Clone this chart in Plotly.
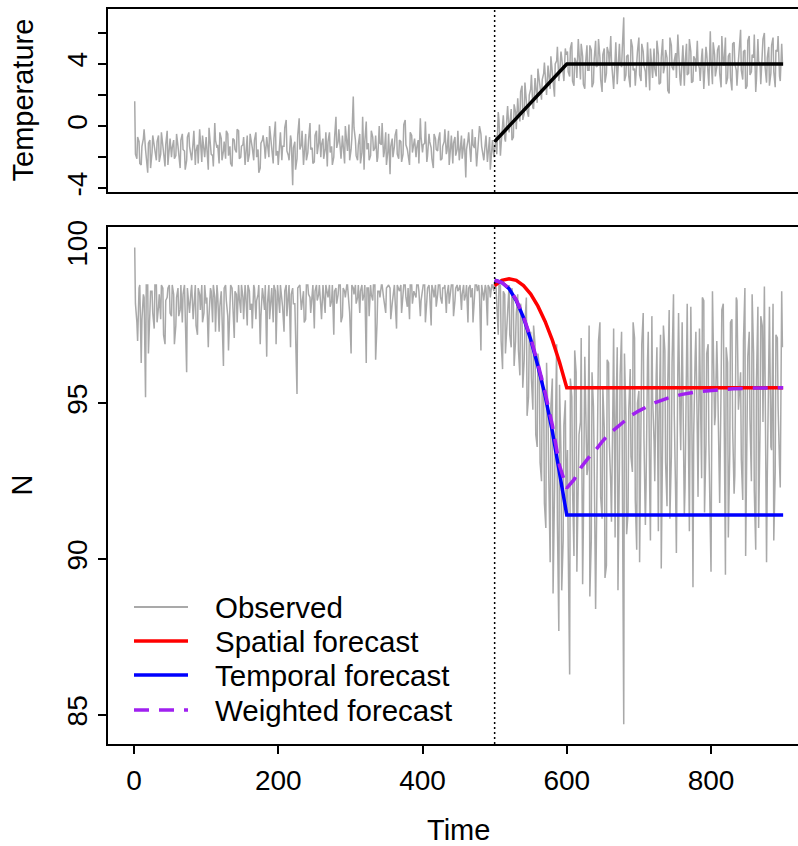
import plotly.graph_objects as go

# ---------------- data ----------------
obs_time_a = list(range(1, 900, 3))
obs_time_b = list(range(2, 900, 3))

temp_obs_a = [
    1.6, -2.1, -1.0, -2.5, -0.8, -1.5, -3.0, -0.9, -1.7, -1.2,
    -2.2, -0.6, -1.8, -1.1, -2.6, -0.3, -1.4, -2.0, -0.9, -1.9,
    -1.3, -2.7, -0.5, -1.6, -2.2, -0.4, -1.8, -1.0, -2.5, -1.2,
    -0.2, -2.3, -1.5, -0.7, -2.8, -1.1, -1.9, 0.2, -1.4, -2.4,
    -0.8, -1.6, -2.1, -0.5, -1.3, -2.6, -0.9, -1.7, -0.3, -2.0,
    -1.2, -2.5, -0.6, -1.8, -1.0, -2.2, -0.4, -1.5, -2.7, -0.9,
    -1.4, -0.7, -2.0, -1.1, -2.4, 0.3, -1.6, -0.8, -2.2, -1.3,
    0.4, -1.9, -0.6, -3.8, -1.0, -2.1, 0.5, -1.2, -2.5, -0.5,
    -1.7, 0.2, -1.4, -2.3, -0.3, -1.1, -2.0, -0.8, -1.5, -2.6,
    -0.4, -1.3, -2.0, 0.6, -1.0, -1.8, -0.6, -2.4, -1.2, 0.1,
    -1.5, 1.9, -0.9, -2.2, -0.5, -1.7, -2.8, 0.3, -1.1, -1.9,
    -0.7, -1.4, -2.3, 0.0, -1.2, -2.0, -0.4, -1.6, -3.1, -0.8,
    -1.3, -0.2, -2.1, -1.0, -1.8, 0.4, -1.5, -2.5, -0.6, -1.2,
    -2.0, -0.9, 0.5, -1.7, -1.1, -2.3, -0.5, -1.4, -2.7, -0.8,
    -1.6, -0.4, -2.1, -1.0, -1.8, -0.3, -1.3, -2.4, -0.7, -1.5,
    -2.2, -0.6, -1.2, -3.3, -0.9, -1.7, -0.2, -1.4, -2.6, -1.0,
    -0.5, -1.9, -1.1, -2.3, -0.7, -1.6, -2.0,
    -0.6, 0.9, -1.9, 0.2, -0.8, 0.6, -0.4, 1.1, -0.7, 0.9,
    1.8, 0.3, 2.6, 0.8, 1.9, 0.6, 2.4, 1.2, 3.1, 1.5,
    2.8, 1.7, 3.4, 2.1, 3.9, 2.4, 3.6, 1.9, 4.2, 2.9,
    4.8, 3.1, 5.0,
    4.8, 3.2, 5.4, 2.6, 4.1, 5.6, 3.0, 4.5, 2.4, 5.2,
    3.6, 4.9, 2.8, 5.5, 3.9, 4.4, 2.2, 5.0, 3.4, 4.7,
    5.8, 3.1, 4.3, 2.7, 5.3, 3.8, 7.0, 3.3, 4.6, 2.5,
    5.1, 3.7, 4.2, 5.7, 2.9, 4.8, 3.5, 5.4, 2.3, 4.0,
    5.0, 3.2, 4.6, 2.8, 5.6, 3.9, 4.4, 2.1, 5.2, 3.6,
    4.7, 5.9, 3.0, 4.1, 2.6, 5.3, 3.4, 4.8, 2.9, 4.3,
    5.5, 3.7, 4.5, 2.4, 5.1, 3.3, 6.1, 2.7, 4.6, 3.8,
    5.2, 2.5, 4.0, 5.7, 3.1, 4.7, 2.3, 5.4, 3.6, 4.2,
    6.2, 3.0, 4.9, 2.6, 5.8, 3.5, 4.4, 2.2, 5.6, 3.9,
    4.5, 6.0, 2.8, 5.1, 3.4, 5.7, 2.5, 4.8, 3.2, 5.3,
]

temp_obs_b = [
    -1.8, -0.7, -2.4, -1.3, -0.2, -2.0, -1.1, -2.7, -0.6, -1.5,
    -1.0, -2.3, -0.4, -1.7, -1.2, -2.5, -0.8, -1.4, -2.1, -0.5,
    -2.0, -0.9, -1.5, -2.8, -0.7, -1.3, -2.2, -0.3, -1.6, -2.4,
    -1.1, -0.6, -2.0, -1.4, -0.1, -1.8, -2.6, -0.9, -1.2, -0.4,
    -2.2, -1.0, -0.3, -1.9, -2.4, -0.8, -1.5, -0.2, -2.1, -1.3,
    -0.7, -1.6, -2.3, -0.5, -1.4, -0.9, -2.0, -3.0, -1.1, -0.6,
    -2.1, -1.2, 0.0, -1.7, -0.8, -1.9, -2.5, -0.4, -1.3, -0.1,
    -1.6, -2.2, -0.9, -1.4, -2.8, -0.6, -1.5, -0.3, -1.9, -2.2,
    -0.9, -1.5, -2.4, -0.6, -1.8, 0.1, -1.2, -2.1, -0.4, -1.0,
    -1.7, -2.5, -0.8, -1.4, -0.2, -2.1, -1.3, 0.0, -1.6, -2.2,
    -0.8, -0.1, -1.9, -1.2, -2.4, 0.6, -1.0, -1.5, -2.2, -0.3,
    -1.6, -0.6, -2.0, -1.1, 0.2, -1.7, -2.5, -0.5, -1.3, -2.0,
    -0.6, -1.8, -0.9, -2.3, 0.1, -1.2, -2.0, -0.4, -1.7, -0.8,
    -1.4, -2.4, -0.7, -1.2, 0.3, -1.9, -1.0, -2.1, -0.5, -1.5,
    -0.9, -2.2, -1.3, -0.2, -1.6, -2.5, -0.6, -1.1, -1.9, -0.3,
    -1.4, -2.1, -0.8, -1.5, -0.4, -2.3, -1.2, -0.7, -1.8, 0.0,
    -1.3, -2.2, -0.6, -1.5, -2.8, -0.9, -1.4,
    -1.8, 0.4, -1.2, 0.7, -1.0, 1.3, 0.2, -0.9, 1.4, -0.2,
    1.0, 2.2, 0.4, 2.8, 1.0, 2.0, 3.3, 1.1, 2.6, 3.7,
    2.3, 3.0, 4.1, 2.0, 3.5, 4.5, 2.7, 4.0, 5.1, 3.3,
    4.4, 2.9, 4.6,
    3.5, 5.0, 2.9, 4.4, 3.1, 4.7, 5.3, 2.7, 4.0, 3.6,
    5.2, 2.5, 4.3, 3.8, 5.6, 3.0, 4.6, 2.8, 5.1, 3.9,
    4.2, 2.4, 5.4, 3.5, 4.1, 5.0, 2.9, 4.5, 3.2, 5.6,
    3.6, 2.6, 4.8, 3.3, 5.3, 3.9, 2.5, 4.3, 5.0, 3.1,
    3.7, 5.5, 2.7, 4.4, 3.4, 4.9, 2.3, 5.7, 3.8, 4.2,
    3.1, 4.6, 2.6, 5.2, 4.0, 3.3, 5.6, 2.8, 4.5, 3.5,
    4.1, 2.9, 5.0, 3.6, 4.7, 2.6, 4.3, 5.4, 3.2, 4.9,
    3.4, 5.8, 3.9, 2.7, 4.5, 3.1, 5.3, 4.0, 2.6, 5.0,
    3.6, 4.8, 2.4, 5.5, 3.3, 4.6, 5.9, 3.0, 4.2, 2.7,
    5.6, 3.8, 4.4, 2.6, 5.2, 3.5, 4.9, 5.8, 2.9, 4.1,
]

n_obs_a = [
    100.0, 97.6, 98.7, 96.3, 98.5, 95.2, 98.8, 97.9, 98.6, 97.4,
    98.8, 98.1, 97.7, 98.7, 96.9, 98.4, 98.8, 97.8, 98.5, 97.5,
    98.7, 98.0, 97.6, 98.8, 96.0, 98.3, 98.6, 97.7, 98.8, 97.2,
    98.5, 98.8, 97.9, 98.2, 96.8, 98.7, 97.6, 98.4, 98.8, 97.3,
    98.6, 96.2, 98.8, 97.8, 98.3, 98.7, 97.1, 98.5, 98.8, 97.9,
    98.4, 98.8, 97.5, 98.6, 98.2, 98.8, 97.7, 98.5, 96.9, 98.7,
    98.0, 96.5, 98.8, 98.3, 97.6, 98.6, 98.8, 97.9, 98.4, 97.3,
    98.8, 98.5, 96.8, 98.7, 98.2, 95.3, 98.8, 98.0, 98.6, 97.7,
    98.8, 98.4, 98.7, 97.4, 98.8, 98.5, 98.1, 98.8, 97.9, 98.6,
    98.8, 98.3, 97.2, 98.7, 98.5, 98.8, 97.8, 98.6, 98.8, 98.2,
    96.6, 98.7, 98.8, 98.4, 97.9, 98.8, 98.5, 96.3, 98.7, 98.8,
    98.3, 98.8, 97.6, 98.6, 98.8, 98.4, 97.9, 98.8, 98.7, 98.2,
    98.8, 97.4, 98.6, 98.8, 98.5, 98.8, 98.1, 97.7, 98.8, 98.6,
    98.4, 98.8, 97.8, 98.7, 98.8, 98.3, 98.8, 97.5, 98.6, 98.8,
    98.5, 98.8, 98.2, 98.7, 97.9, 98.8, 98.6, 98.8, 98.3, 98.8,
    98.7, 98.0, 98.8, 98.5, 97.6, 98.8, 98.7, 98.4, 98.8, 98.8,
    96.7, 98.5, 98.8, 97.5, 98.7, 98.8, 98.6,
    98.7, 97.2, 98.8, 96.1, 98.5, 97.6, 98.8, 96.8, 98.3, 97.0,
    98.5, 95.9, 97.8, 96.4, 98.4, 95.2, 97.3, 94.8, 96.9, 93.6,
    96.2, 92.5, 95.4, 91.0, 94.6, 89.9, 95.8, 92.1, 96.9, 87.7,
    93.4, 90.6, 95.1,
    93.5, 86.3, 95.2, 90.1, 96.0, 91.8, 94.4, 89.2, 96.5, 92.7,
    97.5, 90.6, 94.9, 88.4, 95.7, 97.6, 91.3, 94.2, 89.8, 96.3,
    92.4, 95.1, 90.7, 96.8, 93.0, 97.3, 84.7, 94.6, 91.5, 96.1,
    92.8, 97.1, 90.3, 95.4, 93.6, 97.9, 91.1, 96.4, 92.2, 97.8,
    93.8, 95.9, 90.9, 97.2, 94.1, 96.7, 91.7, 98.0, 93.3, 98.5,
    92.0, 96.2, 94.5, 97.6, 91.4, 95.8, 93.1, 98.1, 89.1, 96.5,
    94.0, 97.4, 92.6, 98.3, 93.7, 96.9, 91.6, 98.6, 94.3, 97.0,
    92.9, 95.6, 98.2, 89.5, 96.3, 93.4, 97.7, 92.1, 98.4, 94.8,
    96.0, 91.9, 98.7, 93.9, 97.3, 92.5, 96.6, 90.3, 98.1, 94.2,
    97.5, 98.75, 89.9, 96.4, 93.6, 98.2, 92.8, 97.1, 93.0, 98.6,
]

n_obs_b = [
    98.2, 97.0, 98.8, 97.7, 98.4, 98.8, 96.6, 98.6, 97.9, 98.8,
    97.6, 98.5, 98.8, 97.2, 98.3, 98.7, 97.9, 98.8, 96.9, 98.4,
    97.8, 98.8, 98.5, 97.4, 98.7, 97.9, 98.8, 98.2, 97.5, 98.7,
    98.0, 97.6, 98.8, 98.4, 97.8, 98.6, 98.8, 97.3, 98.5, 98.1,
    97.8, 98.7, 98.3, 96.7, 98.8, 98.0, 98.6, 97.6, 98.4, 98.8,
    97.7, 98.5, 98.8, 98.0, 97.4, 98.7, 98.3, 98.8, 97.8, 98.5,
    98.8, 98.2, 97.7, 98.7, 98.8, 96.9, 98.4, 98.8, 98.1, 98.6,
    97.8, 98.8, 98.5, 98.2, 96.8, 98.7, 98.8, 98.3, 97.6, 98.8,
    98.5, 97.9, 98.8, 98.6, 98.3, 98.8, 97.7, 98.5, 98.8, 98.4,
    98.1, 98.8, 98.6, 98.2, 98.8, 97.6, 98.7, 98.4, 98.8, 97.9,
    98.8, 98.5, 98.2, 98.8, 98.6, 98.3, 98.8, 98.7, 97.8, 98.5,
    98.8, 96.4, 98.6, 98.4, 98.8, 98.2, 98.7, 98.8, 97.7, 98.5,
    98.3, 98.8, 98.6, 97.9, 98.8, 98.4, 98.7, 98.8, 98.2, 98.5,
    98.8, 98.6, 98.3, 98.8, 97.6, 98.7, 98.5, 98.8, 98.4, 98.1,
    98.8, 98.4, 98.7, 98.8, 98.5, 98.2, 98.8, 97.8, 98.7, 98.6,
    98.8, 98.5, 98.3, 98.8, 98.7, 98.4, 97.6, 98.8, 98.6, 98.5,
    98.8, 98.3, 98.7, 98.8, 98.4, 98.8, 98.9,
    98.0, 98.8, 97.0, 98.6, 96.6, 98.3, 97.2, 98.7, 96.2, 97.9,
    96.7, 98.2, 95.5, 97.6, 94.6, 97.1, 95.8, 97.5, 94.0, 96.6,
    93.1, 95.9, 91.8, 96.3, 92.7, 94.9, 88.9, 94.2, 91.2, 95.6,
    89.0, 94.3, 91.7,
    90.4, 95.8, 92.3, 96.7, 89.6, 94.0, 97.1, 91.0, 95.3, 92.9,
    88.8, 96.0, 93.2, 90.5, 97.0, 92.0, 95.5, 89.4, 96.4, 93.7,
    91.2, 97.4, 94.3, 89.0, 95.9, 92.6, 96.6, 90.8, 94.8, 93.3,
    97.6, 91.9, 95.0, 89.9, 96.9, 93.9, 92.4, 97.3, 90.6, 95.2,
    92.5, 96.8, 94.4, 89.7, 97.5, 93.1, 95.6, 91.3, 96.3, 94.7,
    90.2, 97.9, 93.5, 95.9, 92.3, 98.2, 90.9, 96.1, 94.0, 97.3,
    92.0, 95.3, 98.4, 91.5, 96.6, 93.8, 89.6, 97.4, 94.6, 96.0,
    91.8, 98.0, 93.9, 96.8, 90.7, 97.6, 94.2, 92.7, 98.3, 95.1,
    93.2, 97.0, 90.1, 96.5, 94.5, 98.5, 92.2, 95.7, 91.0, 97.8,
    94.4, 96.2, 92.6, 98.1, 93.5, 90.6, 97.2, 94.9, 92.3, 96.8,
]

forecast_start = 500

temp_fc_time = [500, 600, 900]
temp_fc = [-1.0, 4.0, 4.0]

fc_time = [500, 510, 520, 530, 540, 550, 560, 570, 580, 590, 600, 900]
spatial_fc = [98.78, 98.95, 99.0, 98.95, 98.78, 98.51, 98.12, 97.63, 97.03, 96.32, 95.5, 95.5]
temporal_fc = [98.95, 98.88, 98.68, 98.30, 97.75, 97.05, 96.20, 95.25, 94.10, 92.80, 91.42, 91.42]

wfc_time = [500, 510, 520, 530, 540, 550, 560, 570, 580, 590, 600, 610, 620, 630, 640,
            650, 660, 670, 680, 690, 700, 720, 740, 760, 780, 800, 830, 860, 900]
weighted_fc = [98.95, 98.88, 98.69, 98.32, 97.78, 97.10, 96.27, 95.35, 94.30, 93.00, 92.28,
               92.55, 92.95, 93.25, 93.50, 93.80, 94.05, 94.25, 94.45, 94.62, 94.76,
               95.00, 95.17, 95.29, 95.37, 95.42, 95.47, 95.49, 95.50]

legend_labels = ["Observed", "Spatial forecast", "Temporal forecast", "Weighted forecast"]
legend_colors = ["#A9A9A9", "#FF0000", "#0000FF", "#A020F0"]

x_ticks = [0, 200, 400, 600, 800]
temp_ticks = [-4, -2, 0, 2, 4, 6]
temp_ticktext = ["-4", "", "0", "", "4", ""]
n_ticks = [85, 90, 95, 100]


def interleave(a, b):
    out = []
    for u, v in zip(a, b):
        out.extend([u, v])
    return out


obs_time = interleave(obs_time_a, obs_time_b)
temp_obs = interleave(temp_obs_a, temp_obs_b)
n_obs = interleave(n_obs_a, n_obs_b)

# ---------------- geometry ----------------
W, H = 798, 846
ML, MR, MT, MB = 108, 0, 9, 102
PW, PH = W - ML - MR, H - MT - MB


def px(xp):
    return (xp - ML) / PW


def py(yp):
    return (H - MB - yp) / PH


FONT = "Liberation Sans, Arial, Helvetica, sans-serif"
FS = 28
FS_TITLE = 29
FS_LEG = 29.5
GRAY_W = 1.5
DASH = "15px,10px"

fig = go.Figure()

# top panel
fig.add_trace(go.Scatter(x=obs_time, y=temp_obs, mode="lines",
                         line=dict(color=legend_colors[0], width=GRAY_W),
                         xaxis="x", yaxis="y", showlegend=False))
fig.add_trace(go.Scatter(x=temp_fc_time, y=temp_fc, mode="lines",
                         line=dict(color="black", width=3.5),
                         xaxis="x", yaxis="y", showlegend=False))

# bottom panel
fig.add_trace(go.Scatter(x=obs_time, y=n_obs, mode="lines",
                         line=dict(color=legend_colors[0], width=GRAY_W),
                         xaxis="x2", yaxis="y2", showlegend=False))
fig.add_trace(go.Scatter(x=fc_time, y=spatial_fc, mode="lines",
                         line=dict(color=legend_colors[1], width=3.5),
                         xaxis="x2", yaxis="y2", showlegend=False))
fig.add_trace(go.Scatter(x=fc_time, y=temporal_fc, mode="lines",
                         line=dict(color=legend_colors[2], width=3.5),
                         xaxis="x2", yaxis="y2", showlegend=False))
fig.add_trace(go.Scatter(x=wfc_time, y=weighted_fc, mode="lines",
                         line=dict(color=legend_colors[3], width=3.5, dash=DASH),
                         xaxis="x2", yaxis="y2", showlegend=False))

xr = [-36.05, 920.6]
top_dom = [py(192), 1.0]
bot_dom = [0.0, py(227)]

axis_common = dict(showgrid=False, zeroline=False, showline=True, linecolor="black",
                   linewidth=1.5, tickcolor="black", tickwidth=1.5, ticklen=8,
                   tickfont=dict(family=FONT, size=FS, color="black"))

fig.update_layout(
    width=W, height=H,
    margin=dict(l=ML, r=MR, t=MT, b=MB, autoexpand=False),
    paper_bgcolor="white", plot_bgcolor="white",
    showlegend=False,
    xaxis=dict(domain=[0, 1], anchor="y", range=xr, showticklabels=False, ticks="",
               mirror=True, **axis_common),
    yaxis=dict(domain=top_dom, anchor="x", range=[-4.24, 7.54], tickvals=temp_ticks,
               ticktext=temp_ticktext, ticks="outside", tickangle=-90,
               ticklabelstandoff=0, **axis_common),
    xaxis2=dict(domain=[0, 1], anchor="y2", range=xr, tickvals=x_ticks, ticks="outside",
                mirror=True, ticklabelstandoff=3, **axis_common),
    yaxis2=dict(domain=bot_dom, anchor="x2", range=[84.07, 100.66], tickvals=n_ticks,
                ticks="outside", tickangle=-90, ticklabelstandoff=0, **axis_common),
)

# dotted forecast-start line in both panels
for xref, yref in (("x", "y domain"), ("x2", "y2 domain")):
    fig.add_shape(type="line", xref=xref, yref=yref, x0=forecast_start, x1=forecast_start,
                  y0=0, y1=1, line=dict(color="black", width=1.5, dash="2px,3px"))

# axis titles
fig.add_annotation(text="Temperature", xref="paper", yref="paper", x=px(22), y=py(100.5),
                   textangle=-90, showarrow=False, xanchor="center", yanchor="middle",
                   font=dict(family=FONT, size=FS_TITLE, color="black"))
fig.add_annotation(text="N", xref="paper", yref="paper", x=px(21), y=py(485.5),
                   textangle=-90, showarrow=False, xanchor="center", yanchor="middle",
                   font=dict(family=FONT, size=FS_TITLE, color="black"))
fig.add_annotation(text="Time", xref="paper", yref="paper", x=px(459), y=py(830),
                   showarrow=False, xanchor="center", yanchor="middle",
                   font=dict(family=FONT, size=FS_TITLE, color="black"))

# legend (drawn by hand to match the R-style layout)
legend_rows = [607, 641, 675, 710]
legend_widths = [2, 3.5, 3.5, 3.5]
legend_dash = ["solid", "solid", "solid", DASH]
for lab, col, yrow, lw, dsh in zip(legend_labels, legend_colors, legend_rows, legend_widths, legend_dash):
    fig.add_shape(type="line", xref="paper", yref="paper", x0=px(134), x1=px(188),
                  y0=py(yrow), y1=py(yrow), line=dict(color=col, width=lw, dash=dsh))
    fig.add_annotation(text=lab, xref="paper", yref="paper", x=px(213), y=py(yrow),
                       showarrow=False, xanchor="left", yanchor="middle",
                       font=dict(family=FONT, size=FS_LEG, color="black"))

fig.write_html("out.html")
